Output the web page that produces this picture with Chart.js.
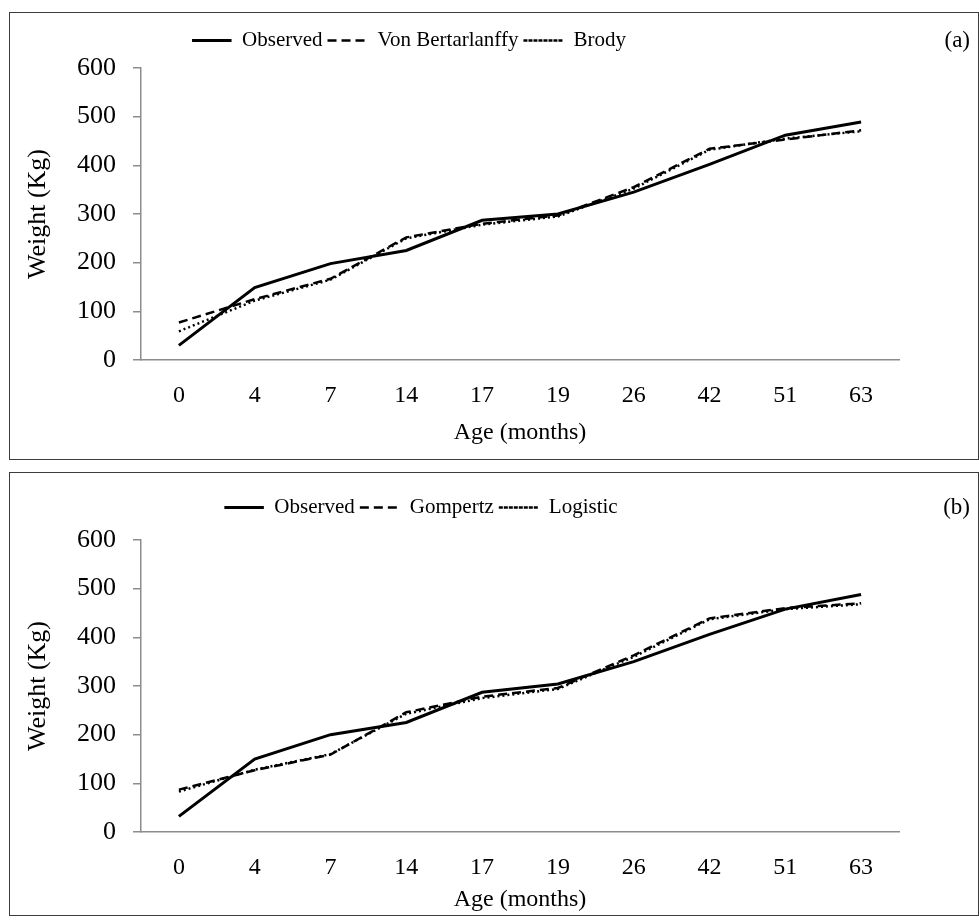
<!DOCTYPE html>
<html>
<head>
<meta charset="utf-8">
<script src="https://cdn.jsdelivr.net/npm/chart.js@4.4.0/dist/chart.umd.min.js"></script>
<style>
  body { margin: 0; background: #fff; }
  .panel { position: absolute; left: 9px; width: 968px; border: 1px solid #3c3c3c; background: #fff; }
  #panelA { top: 12px; height: 446px; }
  #panelB { top: 472px; height: 442px; }
  canvas { display: block; }
</style>
</head>
<body>
<div class="panel" id="panelA"><canvas id="chartA" width="968" height="446"></canvas></div>
<div class="panel" id="panelB"><canvas id="chartB" width="968" height="442"></canvas></div>
<script>
// ages (months) on the x axis
var ages = ['0', '4', '7', '14', '17', '19', '26', '42', '51', '63'];
var weightTicks = [0, 100, 200, 300, 400, 500, 600];

// panel (a)
var observedA      = [30, 149, 198, 225, 287, 300, 345, 402, 462, 489];
var vonBertalanffy = [77, 125, 167, 252, 280, 297, 355, 434, 453, 472];
var brody          = [59, 122, 165, 250, 278, 295, 352, 432, 455, 470];

// panel (b)
var observedB = [32, 150, 200, 225, 287, 304, 350, 406, 458, 488];
var gompertz  = [87, 127, 159, 246, 278, 296, 363, 439, 460, 470];
var logistic  = [83, 128, 160, 243, 275, 294, 360, 437, 458, 468];

Chart.defaults.font.family = "'Liberation Serif', 'Times New Roman', serif";
Chart.defaults.color = '#000';

// nudges the legend row and draws the "(a)" / "(b)" tag beside it
var tagPlugin = {
  id: 'panelTag',
  afterLayout: function (chart, args, opts) {
    var lg = chart.legend;
    lg.top -= opts.dy;
    lg.bottom -= opts.dy;
    lg.left -= opts.dx;
    lg.right -= opts.dx;
  },
  afterDraw: function (chart, args, opts) {
    var ctx = chart.ctx;
    var lg = chart.legend;
    ctx.save();
    ctx.font = "23px 'Liberation Serif'";
    ctx.fillStyle = '#000';
    ctx.textAlign = 'right';
    ctx.textBaseline = 'middle';
    ctx.fillText(opts.text, chart.width - 8, lg.top + 5 + 10.5);
    ctx.restore();
  }
};

function makeChart(id, tag, names, series, lay) {
  // legend swatch is a zero-height rect, so the dash period is picked to
  // line up on the way out and back (2 * 39.5 = 79 = 9 + 5 * 14)
  var styles = [
    { borderWidth: 3, borderDash: [] },
    { borderWidth: 2.5, borderDash: [9, 5] },
    { borderWidth: 2.5, borderDash: [2, 3] }
  ];
  var datasets = names.map(function (n, i) {
    return {
      label: n,
      data: series[i],
      borderColor: '#000',
      backgroundColor: 'rgba(0,0,0,0)',
      borderWidth: styles[i].borderWidth,
      borderDash: styles[i].borderDash,
      pointRadius: 0,
      tension: 0,
      fill: false
    };
  });

  return new Chart(document.getElementById(id), {
    type: 'line',
    data: { labels: ages, datasets: datasets },
    plugins: [tagPlugin],
    options: {
      responsive: false,
      animation: false,
      layout: { padding: { top: lay.top, right: 79, bottom: lay.bottom, left: 13 } },
      plugins: {
        tooltip: { enabled: false },
        panelTag: { text: tag, dx: lay.dx, dy: lay.dy },
        legend: {
          position: 'top',
          labels: {
            boxWidth: 39.5,
            boxHeight: 0,
            padding: 5,
            font: { size: 21 }
          }
        }
      },
      scales: {
        x: {
          offset: true,
          afterFit: function (s) { s.height = lay.xHeight; },
          grid: { display: false, drawTicks: false },
          border: { display: true, color: '#8c8c8c', width: 1.5 },
          ticks: { padding: 21, font: { size: 24 }, maxRotation: 0 },
          title: { display: true, text: 'Age (months)', font: { size: 24 }, padding: 0 }
        },
        y: {
          min: 0,
          max: 600,
          afterFit: function (s) { s.width = 118; },
          afterBuildTicks: function (s) { s.ticks = weightTicks.map(function (v) { return { value: v }; }); },
          grid: { drawOnChartArea: false, drawTicks: true, tickLength: 8, color: '#8c8c8c', lineWidth: 1.5 },
          border: { display: true, color: '#8c8c8c', width: 1.5 },
          ticks: { padding: 17, font: { size: 26 } },
          title: { display: true, text: 'Weight (Kg)', font: { size: 26 }, padding: 0 }
        }
      }
    }
  });
}

makeChart('chartA', '(a)', ['Observed', 'Von Bertarlanffy', 'Brody'],
  [observedA, vonBertalanffy, brody],
  { top: 19, bottom: 12, xHeight: 87, dx: 52, dy: 7 });

makeChart('chartB', '(b)', ['Observed', 'Gompertz', 'Logistic'],
  [observedB, gompertz, logistic],
  { top: 31, bottom: 1, xHeight: 82, dx: 40, dy: 12 });
</script>
</body>
</html>
